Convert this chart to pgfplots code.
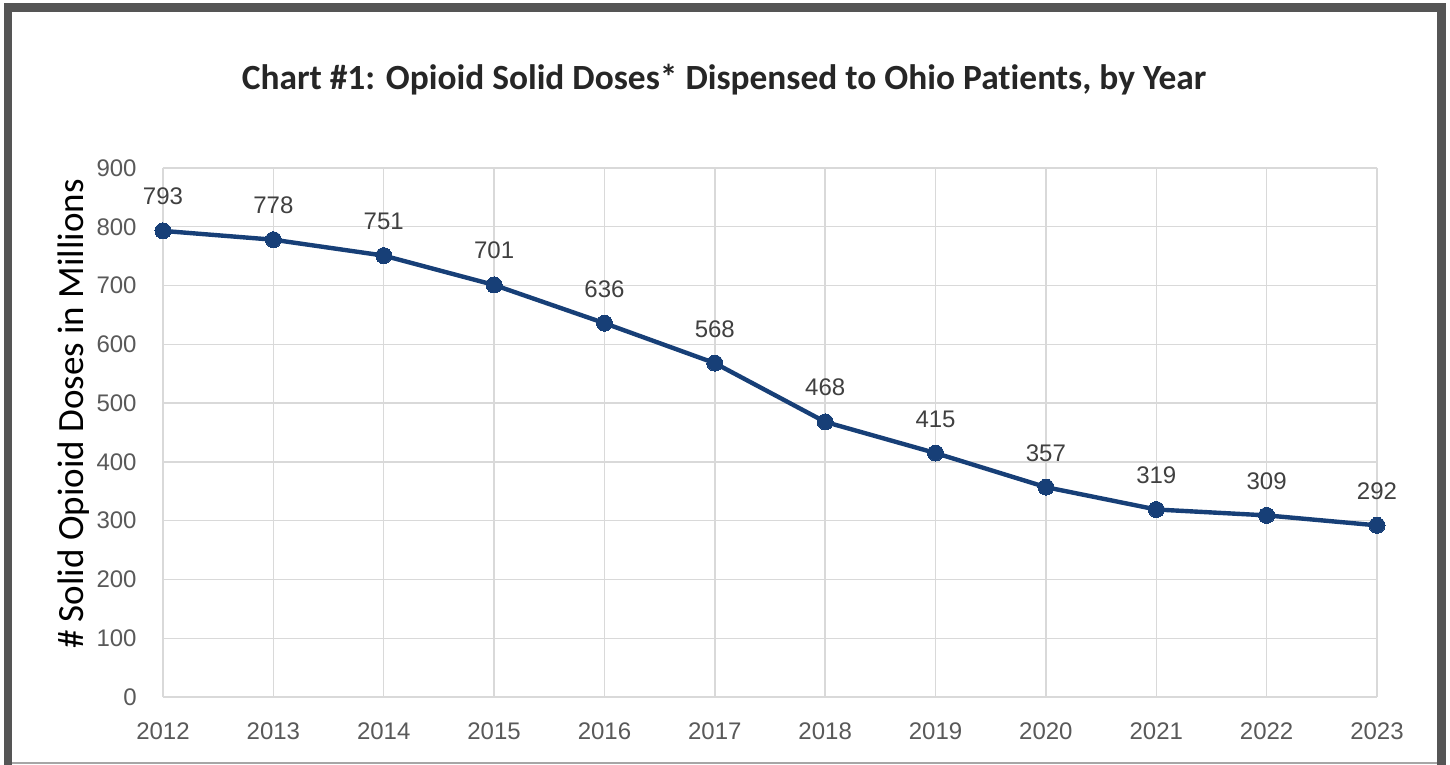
\documentclass[border=0pt]{standalone}
\usepackage{pgfplots}
\pgfplotsset{compat=1.18}
\usepackage{fontspec}
\setmainfont{Liberation Sans}
\newfontfamily\carlito[Ligatures=NoCommon]{Carlito}
\definecolor{framegray}{HTML}{555555}
\definecolor{gridgray}{HTML}{D9D9D9}
\definecolor{ticktext}{HTML}{595959}
\definecolor{labeltext}{HTML}{404040}
\definecolor{titletext}{HTML}{262626}
\definecolor{navy}{HTML}{173F77}
\begin{document}
\begin{tikzpicture}
\useasboundingbox (-81.5pt,-34pt) rectangle (643.5pt,348.5pt);
\begin{scope}
\clip (-81.5pt,-34pt) rectangle (643.5pt,348.5pt);
\fill[white] (-81.5pt,-34pt) rectangle (643.5pt,348.5pt);
\draw[framegray, line width=4.2pt] (-77.5pt,-50pt) rectangle (639.25pt,344.75pt);
\draw[gray!70, line width=0.8pt] (-75.4pt,-33pt) -- (637.1pt,-33pt);
\end{scope}
\begin{axis}[
  at={(0pt,0pt)}, anchor=south west,
  scale only axis, width=607pt, height=264.5pt,
  xmin=2012, xmax=2023, ymin=0, ymax=900,
  xtick={2012,2013,...,2023}, ytick={0,100,...,900},
  grid=major, grid style={color=gridgray, line width=0.7pt},
  axis line style={draw=none}, major tick length=0pt,
  /pgf/number format/assume math mode=true,
  /pgf/number format/1000 sep={},
  xticklabel style={font=\fontsize{12}{14}\selectfont, color=ticktext, anchor=base, yshift=-21pt, inner sep=0pt},
  yticklabel style={font=\fontsize{12}{14}\selectfont, color=ticktext, anchor=east, inner sep=0pt, xshift=-13pt},
  clip=false,
  nodes near coords,
  every node near coord/.append style={font=\fontsize{12}{14}\selectfont, color=labeltext, anchor=base, yshift=13pt, inner sep=0pt},
]
\addplot[color=navy, line width=2.2pt, mark=*, mark size=4pt, mark options={fill=navy, draw=navy, line width=0pt}] coordinates {
(2012,793) (2013,778) (2014,751) (2015,701) (2016,636) (2017,568)
(2018,468) (2019,415) (2020,357) (2021,319) (2022,309) (2023,292)};
\end{axis}
\node[anchor=base, inner sep=0pt, color=titletext, font=\carlito\bfseries\fontsize{17.7}{21}\selectfont] at (280.5pt,303.5pt) {Chart \#1: Opioid Solid Doses* Dispensed to Ohio Patients, by Year};
\node[rotate=90, anchor=base, inner sep=0pt, color=black, font=\carlito\fontsize{18.5}{22}\selectfont] at (-39.5pt,141.5pt) {\# Solid Opioid Doses in Millions};
\end{tikzpicture}
\end{document}
